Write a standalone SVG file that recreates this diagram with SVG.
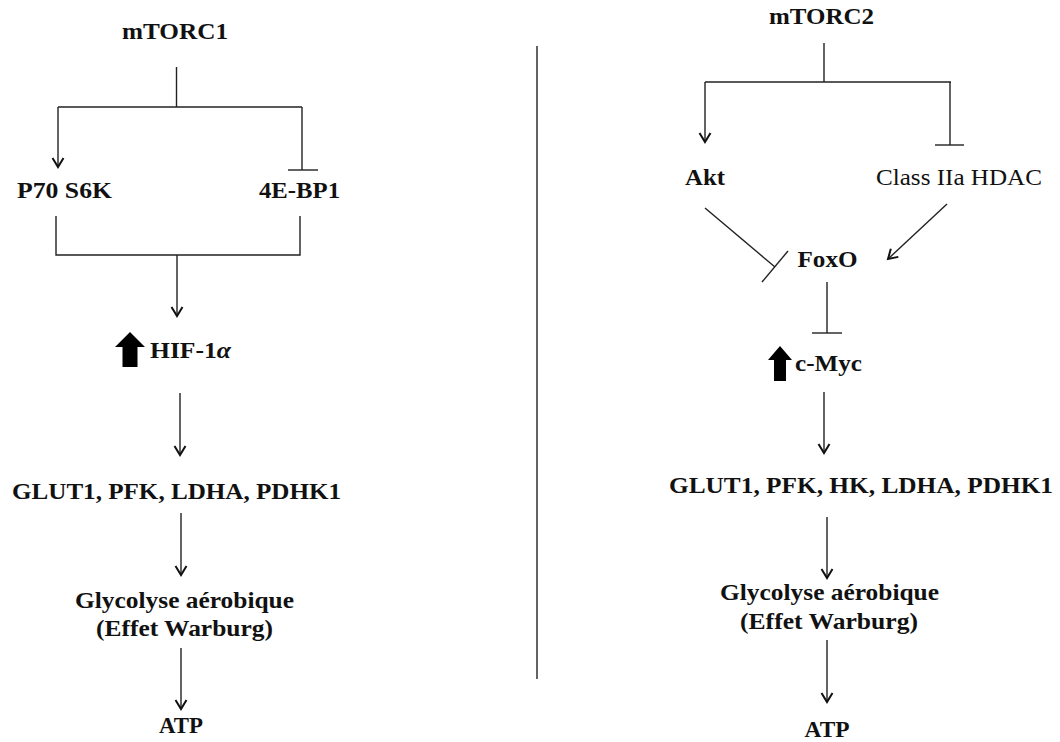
<svg xmlns="http://www.w3.org/2000/svg" width="1060" height="742" viewBox="0 0 1060 742">
  <defs>
    <style>
      .t { font-family: "Liberation Serif", "Times New Roman", serif; font-size: 24px; font-weight: bold; fill: #111; }
      .r { font-weight: normal; }
      .ln { stroke: #222; stroke-width: 1.4; fill: none; }
      .up { fill: #000; }
    </style>
    <marker id="arr" markerUnits="userSpaceOnUse" markerWidth="14" markerHeight="14" viewBox="-7 -10 14 14" refX="0" refY="0" orient="auto">
      <path d="M-9,-5 L0,0 L-9,5" fill="none" stroke="#111" stroke-width="2" transform="rotate(0)"/>
    </marker>
    <marker id="arrh" markerUnits="userSpaceOnUse" markerWidth="16" markerHeight="16" viewBox="-12 -8 16 16" refX="0" refY="0" orient="auto">
      <path d="M-9,-5.5 L0,0 L-9,5.5" fill="none" stroke="#111" stroke-width="2"/>
    </marker>
  </defs>
  <rect width="1060" height="742" fill="#fff"/>

  <g id="connectors">
    <!-- divider -->
    <line class="ln" x1="537" y1="46" x2="537" y2="679" stroke-width="1.6"/>
    <!-- left column -->
    <line class="ln" x1="176.5" y1="67" x2="176.5" y2="107"/>
    <line class="ln" x1="58" y1="107" x2="302" y2="107"/>
    <line class="ln" x1="58" y1="107" x2="58" y2="167" marker-end="url(#arrh)"/>
    <line class="ln" x1="302" y1="107" x2="302" y2="170"/>
    <line class="ln" x1="288" y1="170" x2="318" y2="170"/>
    <polyline class="ln" points="56,216 56,255 300,255 300,216"/>
    <line class="ln" x1="177" y1="255" x2="177" y2="316" marker-end="url(#arrh)"/>
    <line class="ln" x1="180" y1="393" x2="180" y2="455" marker-end="url(#arrh)"/>
    <line class="ln" x1="181" y1="513" x2="181" y2="575" marker-end="url(#arrh)"/>
    <line class="ln" x1="181" y1="648" x2="181" y2="709" marker-end="url(#arrh)"/>
    <!-- right column -->
    <line class="ln" x1="824" y1="43" x2="824" y2="82"/>
    <line class="ln" x1="705" y1="82" x2="951" y2="82"/>
    <line class="ln" x1="705" y1="82" x2="705" y2="142" marker-end="url(#arrh)"/>
    <line class="ln" x1="950" y1="82" x2="950" y2="145"/>
    <line class="ln" x1="935" y1="145" x2="964" y2="145"/>
    <line class="ln" x1="705" y1="208" x2="775" y2="267"/>
    <line class="ln" x1="788" y1="251" x2="762" y2="282"/>
    <line class="ln" x1="947" y1="204" x2="888" y2="259" marker-end="url(#arrh)"/>
    <line class="ln" x1="827" y1="282" x2="827" y2="333"/>
    <line class="ln" x1="812" y1="333" x2="842" y2="333"/>
    <line class="ln" x1="824" y1="392" x2="824" y2="453" marker-end="url(#arrh)"/>
    <line class="ln" x1="827" y1="517" x2="827" y2="578" marker-end="url(#arrh)"/>
    <line class="ln" x1="827" y1="640" x2="827" y2="702" marker-end="url(#arrh)"/>
  </g>

  <g id="mTORC1"><text class="t" x="175" y="39" text-anchor="middle" textLength="106" lengthAdjust="spacingAndGlyphs">mTORC1</text></g>
  <g id="P70S6K"><text class="t" x="64.5" y="198" text-anchor="middle" textLength="95" lengthAdjust="spacingAndGlyphs">P70 S6K</text></g>
  <g id="4EBP1"><text class="t" x="299.5" y="198" text-anchor="middle" textLength="81" lengthAdjust="spacingAndGlyphs">4E-BP1</text></g>
  <g id="HIF1a">
    <polygon class="up" points="130,332 115,347 122.5,347 122.5,367 137.5,367 137.5,347 145,347"/>
    <text class="t" x="150" y="358" textLength="81" lengthAdjust="spacingAndGlyphs">HIF-1<tspan font-style="italic">α</tspan></text>
  </g>
  <g id="genes1"><text class="t" x="176.5" y="499" text-anchor="middle" textLength="329" lengthAdjust="spacingAndGlyphs">GLUT1, PFK, LDHA, PDHK1</text></g>
  <g id="glyco1">
    <text class="t" x="184.5" y="608" text-anchor="middle" textLength="219" lengthAdjust="spacingAndGlyphs">Glycolyse aérobique</text>
    <text class="t" x="184.5" y="636" text-anchor="middle" textLength="177" lengthAdjust="spacingAndGlyphs">(Effet Warburg)</text>
  </g>
  <g id="ATP1"><text class="t" x="181" y="733" text-anchor="middle" textLength="44" lengthAdjust="spacingAndGlyphs">ATP</text></g>

  <g id="mTORC2"><text class="t" x="821.5" y="24" text-anchor="middle" textLength="105" lengthAdjust="spacingAndGlyphs">mTORC2</text></g>
  <g id="Akt"><text class="t" x="705" y="185" text-anchor="middle" textLength="40" lengthAdjust="spacingAndGlyphs">Akt</text></g>
  <g id="HDAC"><text class="t r" x="959" y="185" text-anchor="middle" textLength="166" lengthAdjust="spacingAndGlyphs">Class IIa HDAC</text></g>
  <g id="FoxO"><text class="t" x="827.5" y="267" text-anchor="middle" textLength="60" lengthAdjust="spacingAndGlyphs">FoxO</text></g>
  <g id="cMyc">
    <polygon class="up" points="780,346 768,360 774,360 774,381 786,381 786,360 792,360"/>
    <text class="t" x="795" y="371" textLength="67" lengthAdjust="spacingAndGlyphs">c-Myc</text>
  </g>
  <g id="genes2"><text class="t" x="861" y="493" text-anchor="middle" textLength="384" lengthAdjust="spacingAndGlyphs">GLUT1, PFK, HK, LDHA, PDHK1</text></g>
  <g id="glyco2">
    <text class="t" x="829.5" y="600" text-anchor="middle" textLength="219" lengthAdjust="spacingAndGlyphs">Glycolyse aérobique</text>
    <text class="t" x="829" y="629" text-anchor="middle" textLength="178" lengthAdjust="spacingAndGlyphs">(Effet Warburg)</text>
  </g>
  <g id="ATP2"><text class="t" x="827" y="737" text-anchor="middle" textLength="45" lengthAdjust="spacingAndGlyphs">ATP</text></g>
</svg>
